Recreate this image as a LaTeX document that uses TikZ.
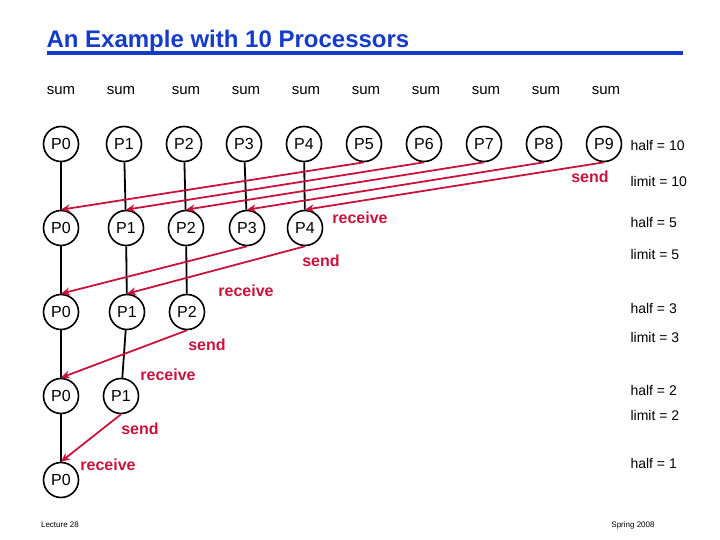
\documentclass[tikz,border=0pt]{standalone}
\usepackage{fontspec}
\setmainfont{Liberation Sans}
\usetikzlibrary{arrows.meta}
\definecolor{red1}{RGB}{200,20,60}
\definecolor{blue1}{RGB}{20,60,200}
\begin{document}
\begin{tikzpicture}[x=1pt,y=-1pt,
 p/.style={circle,draw,line width=1.6pt,minimum size=35pt,inner sep=0pt,font=\fontsize{16}{16}\selectfont},
 v/.style={line width=1.8pt},
 r/.style={red1,line width=1.8pt,-{Stealth[length=9pt,width=8pt]}},
 rl/.style={red1,font=\bfseries\fontsize{16}{16}\selectfont},
 t/.style={font=\fontsize{14}{14}\selectfont,anchor=west}]
\useasboundingbox (0,0) rectangle (720,540);
\node[font=\bfseries\fontsize{24}{24}\selectfont,blue1,anchor=west] (title) at (43,41) {An Example with 10 Processors};
\draw[blue1,line width=4pt] (47,53) -- (683,53);
\foreach \x [count=\i from 0] in {61,121,186,246,306,366,426,486,546,606}
  \node[font=\fontsize{15}{15}\selectfont] (s\i) at (\x,91) {sum};
\foreach \x [count=\i from 0] in {61,124,184,244,304,364,424,484,544,604}
  \node[p] (a\i) at (\x,144) {P\i};
\foreach \x [count=\i from 0] in {61,126,186,247,305}
  \node[p] (b\i) at (\x,228) {P\i};
\foreach \x [count=\i from 0] in {61,127,187}
  \node[p] (c\i) at (\x,312) {P\i};
\node[p] (d0) at (61,396) {P0};
\node[p] (d1) at (121,396) {P1};
\node[p] (e0) at (61,480) {P0};
\foreach \i in {0,...,4} \draw[v] (a\i) -- (b\i);
\foreach \i in {0,...,2} \draw[v] (b\i) -- (c\i);
\draw[v] (c0) -- (d0); \draw[v] (c1) -- (d1); \draw[v] (d0) -- (e0);
\foreach \i [evaluate=\i as \j using int(\i+5)] in {0,...,4} \draw[r] (a\j.south) -- (b\i.north);
\draw[r] (b3.south) -- (c0.north);
\draw[r] (b4.south) -- (c1.north);
\draw[r] (c2.south) -- (d0.north);
\draw[r] (d1.south) -- (e0.north);
\node[rl] (l1) at (590,177) {send};
\node[rl] (l2) at (360,218) {receive};
\node[rl] (l3) at (321,261) {send};
\node[rl] (l4) at (246,291) {receive};
\node[rl] (l5) at (207,345) {send};
\node[rl] (l6) at (168,375) {receive};
\node[rl] (l7) at (140,429) {send};
\node[rl] (l8) at (108,465) {receive};
\node[t] (h1) at (627,145) {half = 10};
\node[t] (h2) at (627,181) {limit = 10};
\node[t] (h3) at (627,222) {half = 5};
\node[t] (h4) at (627,254) {limit = 5};
\node[t] (h5) at (627,308) {half = 3};
\node[t] (h6) at (627,337) {limit = 3};
\node[t] (h7) at (627,390) {half = 2};
\node[t] (h8) at (627,415) {limit = 2};
\node[t] (h9) at (627,463) {half = 1};
\node[font=\fontsize{8}{8}\selectfont] (lec) at (60,525) {Lecture 28};
\node[font=\fontsize{8}{8}\selectfont] (spr) at (633,525) {Spring 2008};
\end{tikzpicture}
\end{document}
